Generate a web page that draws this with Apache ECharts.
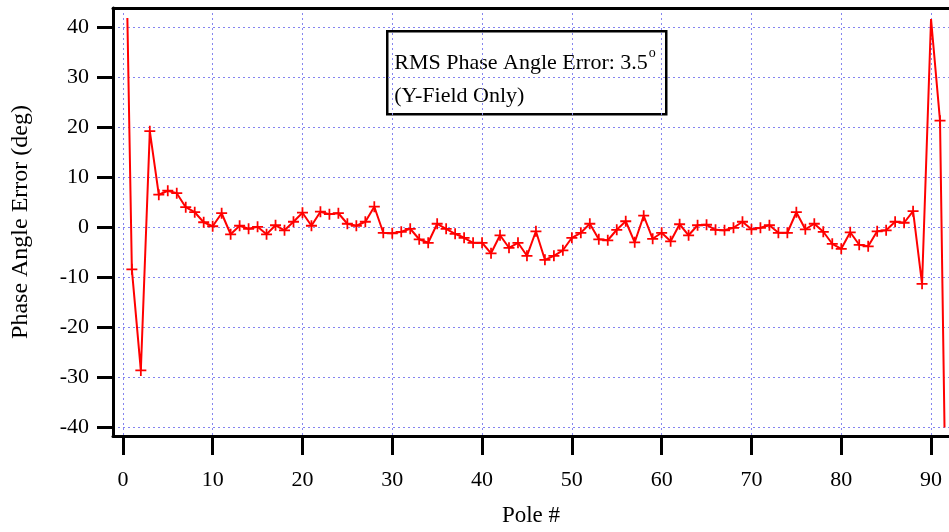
<!DOCTYPE html>
<html>
<head>
<meta charset="utf-8">
<script src="https://cdn.jsdelivr.net/npm/echarts@6/dist/echarts.min.js"></script>
<style>
html,body{margin:0;padding:0;background:#fff;}
#c{width:949px;height:532px;}
</style>
</head>
<body>
<div id="c"></div>
<script>
const poles = [0.5,1,2,3,4,5,6,7,8,9,10,11,12,13,14,15,16,17,18,19,20,21,22,23,24,25,26,27,28,29,30,31,32,33,34,35,36,37,38,39,40,41,42,43,44,45,46,47,48,49,50,51,52,53,54,55,56,57,58,59,60,61,62,63,64,65,66,67,68,69,70,71,72,73,74,75,76,77,78,79,80,81,82,83,84,85,86,87,88,89,90,91,91.5];
const phaseError = [41.8,-8.4,-28.6,19.2,6.5,7.3,6.8,4.0,3.0,1.0,0.2,2.8,-1.4,0.3,-0.3,0.1,-1.4,0.4,-0.6,1.1,2.9,0.3,3.1,2.6,2.8,0.7,0.3,1.1,4.1,-1.1,-1.2,-0.9,-0.3,-2.4,-3.1,0.7,-0.3,-1.3,-2.1,-3.1,-3.1,-5.2,-1.6,-4.1,-3.1,-5.7,-0.8,-6.5,-5.7,-4.6,-2.1,-1.1,0.7,-2.4,-2.6,-0.5,1.2,-3.0,2.3,-2.3,-1.1,-2.8,0.6,-1.6,0.4,0.5,-0.5,-0.6,-0.1,1.1,-0.4,-0.1,0.4,-1.1,-1.1,3.0,-0.4,0.7,-0.9,-3.3,-4.3,-1.0,-3.5,-3.8,-0.8,-0.6,1.1,0.9,3.2,-11.3,41.6,21.3,-40];
const noMarkerPoles = [0.5, 90, 91.5];
const xTicks = [0,10,20,30,40,50,60,70,80,90];
const yTicks = [-40,-30,-20,-10,0,10,20,30,40];
const xTitle = 'Pole #';
const yTitle = 'Phase Angle Error (deg)';
const boxLine1 = 'RMS Phase Angle Error: 3.5';
const boxSup = 'o';
const boxLine2 = '(Y-Field Only)';

const FONT = '"Liberation Serif","Times New Roman",serif';
const plus = 'path://M0,4.2L10,4.2L10,5.8L0,5.8Z M4.2,0L5.8,0L5.8,10L4.2,10Z';

const seriesData = poles.map((p, i) => {
  const item = { value: [p, phaseError[i]] };
  if (noMarkerPoles.indexOf(p) >= 0) item.symbol = 'none';
  return item;
});

const gridLine = { show: true, lineStyle: { color: '#8585f0', width: 1, type: [2, 3] } };

const chart = echarts.init(document.getElementById('c'), null, { renderer: 'canvas' });
chart.setOption({
  backgroundColor: '#ffffff',
  animation: false,
  grid: { left: 113, right: 0, top: 8, bottom: 95, containLabel: false },
  xAxis: [{
    type: 'value', min: -1.1, max: 92, position: 'bottom',
    name: xTitle, nameLocation: 'middle', nameGap: 68,
    nameTextStyle: { fontFamily: FONT, fontSize: 23, color: '#000' },
    axisLine: { show: true, onZero: false, lineStyle: { color: '#000', width: 3 } },
    axisTick: { show: true, inside: false, length: 19, customValues: xTicks, lineStyle: { color: '#000', width: 3 } },
    axisLabel: { show: true, customValues: xTicks, margin: 33, fontFamily: FONT, fontSize: 22, color: '#000' },
    splitLine: gridLine
  }, {
    type: 'value', min: -1.1, max: 92, position: 'top',
    axisLine: { show: true, onZero: false, lineStyle: { color: '#000', width: 3 } },
    axisTick: { show: false }, axisLabel: { show: false }, splitLine: { show: false }
  }],
  yAxis: [{
    type: 'value', min: -41.7, max: 43.8, position: 'left',
    name: yTitle, nameLocation: 'middle', nameGap: 80, nameRotate: 90,
    nameTextStyle: { fontFamily: FONT, fontSize: 24, color: '#000' },
    axisLine: { show: true, onZero: false, lineStyle: { color: '#000', width: 3 } },
    axisTick: { show: true, inside: false, length: 16, customValues: yTicks, lineStyle: { color: '#000', width: 3 } },
    axisLabel: { show: true, customValues: yTicks, margin: 24, fontFamily: FONT, fontSize: 22, color: '#000' },
    splitLine: gridLine
  }],
  series: [{
    type: 'line',
    xAxisIndex: 0, yAxisIndex: 0,
    data: seriesData,
    symbol: plus,
    symbolSize: 11,
    showAllSymbol: true,
    lineStyle: { color: '#ff0000', width: 2 },
    itemStyle: { color: '#ff0000' },
    z: 5
  }],
  graphic: [{
    type: 'group', left: 386, top: 30, z: 100,
    children: [{
      type: 'rect', shape: { x: 0, y: 0, width: 279, height: 83 },
      style: { fill: '#fff', stroke: '#000', lineWidth: 2.5 }
    }, {
      type: 'text', x: 7, y: 15,
      style: {
        text: '{a|' + boxLine1 + '}{s|' + boxSup + '}\n{a|' + boxLine2 + '}',
        rich: {
          a: { fontFamily: FONT, fontSize: 22, lineHeight: 33, fill: '#000' },
          s: { fontFamily: FONT, fontSize: 14, lineHeight: 33, verticalAlign: 'top', padding: [0, 0, 14, 1], fill: '#000' }
        },
        fill: '#000'
      }
    }]
  }]
});
</script>
</body>
</html>
